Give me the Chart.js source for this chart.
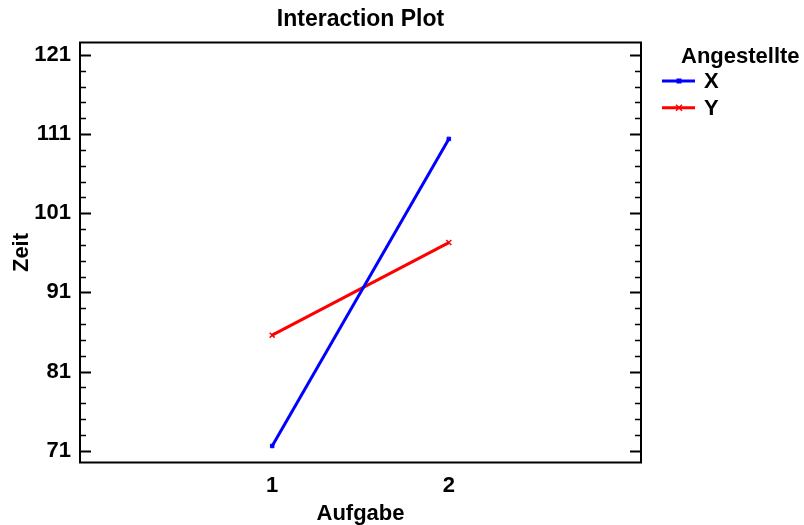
<!DOCTYPE html>
<html>
<head>
<meta charset="utf-8">
<title>Interaction Plot</title>
<script src="https://cdn.jsdelivr.net/npm/chart.js@4"></script>
<style>
  html, body { margin: 0; padding: 0; background: #fff; }
  #wrap { width: 804px; height: 525px; }
</style>
</head>
<body>
<div id="wrap"><canvas id="chart" width="804" height="525"></canvas></div>
<script>
// Werte
const categories = [1, 2];
const seriesNames = ["X", "Y"];
const seriesX = [71.6, 110.4];
const seriesY = [85.6, 97.3];
const seriesColors = ["#0000ff", "#ff0000"];
const yTickValues = [71, 81, 91, 101, 111, 121];
const yMinorTicks = [73, 75, 77, 79, 83, 85, 87, 89, 93, 95, 97, 99, 103, 105, 107, 109, 113, 115, 117, 119];
const legendTitle = "Angestellte";

const FONT = "'Liberation Sans', Arial, Helvetica, sans-serif";

function toPoints(values) {
  return categories.map((c, i) => ({ x: c, y: values[i] }));
}

// Rahmen + nach innen zeigende Ticks links/rechts
const framePlugin = {
  id: "frame",
  afterDraw(chart) {
    const { ctx, chartArea: a, scales } = chart;
    const y = scales.y;
    ctx.save();
    ctx.strokeStyle = "#000";
    ctx.lineWidth = 2;
    ctx.strokeRect(a.left, a.top, a.right - a.left, a.bottom - a.top);
    const tick = (v, len, w) => {
      const py = Math.round(y.getPixelForValue(v)) + 0.5;
      ctx.lineWidth = w;
      ctx.beginPath();
      ctx.moveTo(a.left, py); ctx.lineTo(a.left + len, py);
      ctx.moveTo(a.right, py); ctx.lineTo(a.right - len, py);
      ctx.stroke();
    };
    yTickValues.forEach(v => tick(v, 11, 2));
    yMinorTicks.forEach(v => tick(v, 6, 1.5));
    ctx.restore();
  }
};

// Legende rechts mit Titel, Linie und Marker
const legendPlugin = {
  id: "sideLegend",
  afterDraw(chart) {
    const { ctx } = chart;
    ctx.save();
    ctx.fillStyle = "#000";
    ctx.font = "bold 22px " + FONT;
    ctx.textBaseline = "alphabetic";
    ctx.textAlign = "left";
    ctx.fillText(legendTitle, 681, 63);
    chart.data.datasets.forEach((ds, i) => {
      const cy = 81 + i * 26.7;
      ctx.strokeStyle = ds.borderColor;
      ctx.lineWidth = 3;
      ctx.beginPath();
      ctx.moveTo(662, cy); ctx.lineTo(695, cy);
      ctx.stroke();
      ctx.fillStyle = ds.borderColor;
      if (ds.pointStyle === "rect") {
        ctx.fillRect(676.5, cy - 2.5, 5, 5);
      } else {
        ctx.lineWidth = 1.5;
        ctx.beginPath();
        ctx.moveTo(676, cy - 3); ctx.lineTo(682, cy + 3);
        ctx.moveTo(676, cy + 3); ctx.lineTo(682, cy - 3);
        ctx.stroke();
      }
      ctx.fillStyle = "#000";
      ctx.textBaseline = "middle";
      ctx.fillText(ds.label, 704, cy + 1);
    });
    ctx.restore();
  }
};

const ctx = document.getElementById("chart").getContext("2d");
new Chart(ctx, {
  type: "line",
  data: {
    datasets: [
      {
        label: seriesNames[0],
        data: toPoints(seriesX),
        borderColor: seriesColors[0],
        backgroundColor: seriesColors[0],
        borderWidth: 3,
        pointStyle: "rect",
        pointRadius: 2.5,
        pointBorderWidth: 1
      },
      {
        label: seriesNames[1],
        data: toPoints(seriesY),
        borderColor: seriesColors[1],
        backgroundColor: seriesColors[1],
        borderWidth: 3,
        pointStyle: "crossRot",
        pointRadius: 3.5,
        pointBorderWidth: 1.5
      }
    ]
  },
  options: {
    responsive: false,
    animation: false,
    layout: { padding: { left: 0, right: 163, top: 0, bottom: 0 } },
    plugins: {
      legend: { display: false },
      tooltip: { enabled: false },
      title: {
        display: true,
        text: "Interaction Plot",
        fullSize: false,
        color: "#000",
        font: { family: FONT, size: 23, weight: "bold", lineHeight: 1.2 },
        padding: { top: 6, bottom: 8.9 }
      }
    },
    scales: {
      x: {
        type: "linear",
        min: -0.088,
        max: 3.088,
        afterBuildTicks: s => { s.ticks = categories.map(v => ({ value: v })); },
        afterFit: s => { s.height = 62.5; },
        grid: { display: false, drawTicks: false },
        border: { display: false },
        ticks: {
          color: "#000",
          padding: 10,
          font: { family: FONT, size: 22, weight: "bold" }
        },
        title: {
          display: true,
          text: "Aufgabe",
          color: "#000",
          font: { family: FONT, size: 22, weight: "bold", lineHeight: 1 },
          padding: { top: 0, bottom: 0 }
        }
      },
      y: {
        min: 69.51,
        max: 122.58,
        afterBuildTicks: s => { s.ticks = yTickValues.map(v => ({ value: v })); },
        afterFit: s => { s.width = 80; },
        grid: { display: false, drawTicks: false },
        border: { display: false },
        ticks: {
          color: "#000",
          padding: 9,
          font: { family: FONT, size: 22, weight: "bold" }
        },
        title: {
          display: true,
          text: "Zeit",
          color: "#000",
          font: { family: FONT, size: 22, weight: "bold", lineHeight: 1 },
          padding: { top: 11, bottom: 0 }
        }
      }
    }
  },
  plugins: [framePlugin, legendPlugin]
});
</script>
</body>
</html>
